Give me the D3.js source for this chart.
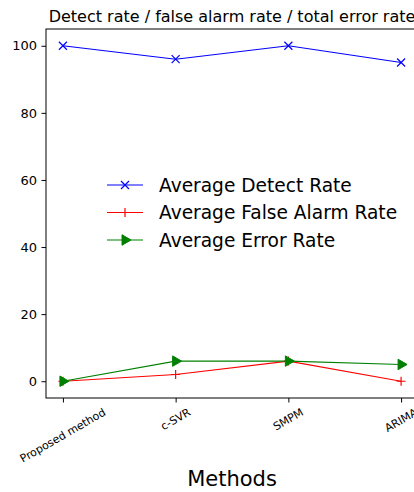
<!DOCTYPE html>
<meta charset="utf-8">
<style>
body { margin: 0; background: #fff; }
svg { display: block; font-family: "DejaVu Sans", sans-serif; }
</style>
<svg width="414" height="492"></svg>
<script src="https://d3js.org/d3.v7.min.js"></script>
<script>

var methods = ["Proposed method", "c-SVR", "SMPM", "ARIMA"];
var detectRate = [100, 96, 100, 95];
var falseAlarmRate = [0, 2, 6, 0];
var errorRate = [0, 6, 6, 5];
var yTicks = [0, 20, 40, 60, 80, 100];

var svg = d3.select("svg");
var plotLeft = 46, plotRight = 418, plotTop = 29, plotBottom = 398;

// index scale with matplotlib-like 5% margins
var xi = d3.scaleLinear().domain([-0.15, methods.length - 1 + 0.15]).range([plotLeft, plotRight]);
var y = d3.scaleLinear().domain([-5, 105]).range([plotBottom, plotTop]);

// frame
svg.append("rect")
    .attr("x", plotLeft).attr("y", plotTop)
    .attr("width", plotRight - plotLeft).attr("height", plotBottom - plotTop)
    .attr("fill", "none").attr("stroke", "#000").attr("stroke-width", 1);

// y axis: ticks from d3, labels drawn by hand for font control
var yAxis = svg.append("g")
    .attr("transform", "translate(" + plotLeft + ",0)")
    .call(d3.axisLeft(y).tickValues(yTicks).tickSize(4.5).tickFormat(""));
yAxis.select(".domain").remove();

svg.append("g").selectAll("text")
    .data(yTicks)
    .enter().append("text")
      .attr("x", plotLeft - 9)
      .attr("y", function(d) { return y(d); })
      .attr("dy", "0.36em")
      .attr("text-anchor", "end")
      .attr("font-size", 13)
      .text(function(d) { return d; });

// x axis
var xAxis = svg.append("g")
    .attr("transform", "translate(0," + plotBottom + ")")
    .call(d3.axisBottom(xi).tickValues(d3.range(methods.length)).tickSize(4.5).tickFormat(""));
xAxis.select(".domain").remove();

// rotated x labels, centered under tick
methods.forEach(function(m, i) {
  var t = svg.append("text")
      .attr("font-size", 11)
      .attr("text-anchor", "middle")
      .attr("dominant-baseline", "central")
      .text(m);
  var w = t.node().getComputedTextLength();
  var h = 11 * 1.15;
  var a = Math.PI / 6;
  var boxH = w * Math.sin(a) + h * Math.cos(a);
  var cy = plotBottom + 4 + 4 + boxH / 2;
  t.attr("transform", "translate(" + xi(i) + "," + cy + ") rotate(-30)");
});

// title
svg.append("text")
    .attr("x", (plotLeft + plotRight) / 2).attr("y", 22)
    .attr("text-anchor", "middle")
    .attr("font-size", 16)
    .text("Detect rate / false alarm rate / total error rate");

// x label
svg.append("text")
    .attr("x", (plotLeft + plotRight) / 2).attr("y", 486)
    .attr("text-anchor", "middle")
    .attr("font-size", 21)
    .text("Methods");

var series = [
  {name: "Average Detect Rate", values: detectRate, color: "blue", marker: "x"},
  {name: "Average False Alarm Rate", values: falseAlarmRate, color: "red", marker: "+"},
  {name: "Average Error Rate", values: errorRate, color: "green", marker: ">"}
];

function drawMarker(g, type, color, cx, cy) {
  if (type === "x") {
    var s = 4;
    g.append("path")
        .attr("d", "M" + (cx - s) + "," + (cy - s) + "L" + (cx + s) + "," + (cy + s) +
                   "M" + (cx - s) + "," + (cy + s) + "L" + (cx + s) + "," + (cy - s))
        .attr("stroke", color).attr("stroke-width", 1.2).attr("fill", "none");
  } else if (type === "+") {
    var p = 4.5;
    g.append("path")
        .attr("d", "M" + (cx - p) + "," + cy + "L" + (cx + p) + "," + cy +
                   "M" + cx + "," + (cy - p) + "L" + cx + "," + (cy + p))
        .attr("stroke", color).attr("stroke-width", 1.2).attr("fill", "none");
  } else {
    var r = 6;
    g.append("path")
        .attr("d", "M" + (cx + r) + "," + cy + "L" + (cx - r * 0.5) + "," + (cy - r * 0.87) +
                   "L" + (cx - r * 0.5) + "," + (cy + r * 0.87) + "Z")
        .attr("fill", color).attr("stroke", color).attr("stroke-width", 1);
  }
}

var line = d3.line()
    .x(function(d, i) { return xi(i); })
    .y(function(d) { return y(d); });

var plot = svg.append("g");
series.forEach(function(s) {
  plot.append("path")
      .datum(s.values)
      .attr("d", line)
      .attr("fill", "none")
      .attr("stroke", s.color)
      .attr("stroke-width", 1.1);
  s.values.forEach(function(v, i) {
    drawMarker(plot, s.marker, s.color, xi(i), y(v));
  });
});

// legend
var legend = svg.append("g");
series.forEach(function(s, i) {
  var ly = 185 + i * 27.5;
  legend.append("line")
      .attr("x1", 107).attr("x2", 143)
      .attr("y1", ly).attr("y2", ly)
      .attr("stroke", s.color).attr("stroke-width", 1.1);
  drawMarker(legend, s.marker, s.color, 125, ly);
  legend.append("text")
      .attr("x", 159).attr("y", ly)
      .attr("dy", "0.35em")
      .attr("font-size", 18.6)
      .text(s.name);
});

</script>
